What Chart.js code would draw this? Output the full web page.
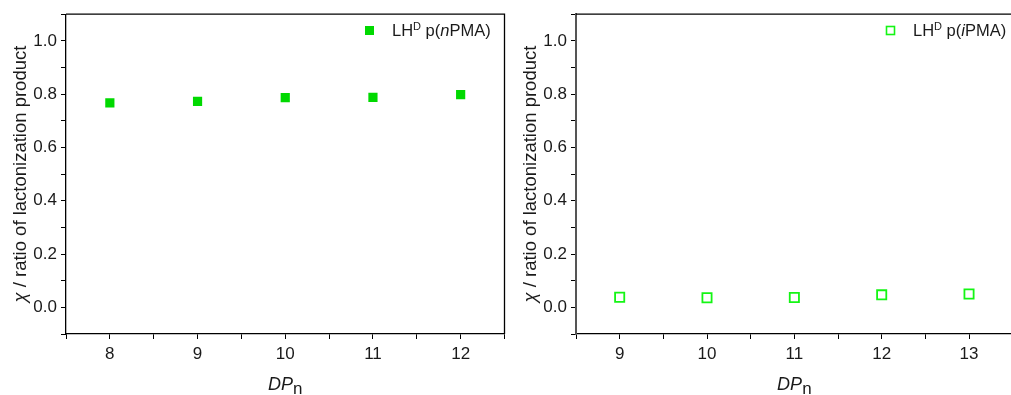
<!DOCTYPE html>
<html>
<head>
<meta charset="utf-8">
<script src="https://cdn.jsdelivr.net/npm/chart.js@4.4.1/dist/chart.umd.min.js"></script>
<style>
  html, body { margin: 0; padding: 0; background: #fff; width: 1011px; height: 395px; overflow: hidden; }
  .panel { position: absolute; top: 0; width: 511px; height: 395px; }
</style>
</head>
<body>
<div class="panel" style="left:0"><canvas id="chartN"></canvas></div>
<div class="panel" style="left:510px"><canvas id="chartI"></canvas></div>
<script>
'use strict';

// Data
const dpN = [8, 9, 10, 11, 12];
const chiN = [0.767, 0.773, 0.787, 0.788, 0.798];
const dpI = [9, 10, 11, 12, 13];
const chiI = [0.038, 0.036, 0.037, 0.047, 0.050];
const yTickLabels = ['0.0', '0.2', '0.4', '0.6', '0.8', '1.0'];

const greenFill = '#00d900',
  greenLine = '#14f514',
  axisColor = '#000',
  textColor = '#1a1a1a',
  fontFamily = '"Liberation Sans", Arial, sans-serif';

// draw a run of text pieces, each with its own style
function drawRich(ctx, parts, x, y, align) {
  let total = 0;
  parts.forEach(function (p) {
    ctx.font = p.font;
    p.w = ctx.measureText(p.text).width;
    total += p.w;
  });
  let cx = align === 'center' ? x - total / 2 : x;
  parts.forEach(function (p) {
    ctx.font = p.font;
    ctx.fillText(p.text, cx, y + (p.dy || 0));
    cx += p.w;
  });
}

const decorPlugin = {
  id: 'decor',
  afterDraw: function (chart) {
    const ctx = chart.ctx,
      area = chart.chartArea,
      opts = chart.options.plugins.decor;
    ctx.save();
    // frame on top and right
    ctx.strokeStyle = axisColor;
    ctx.lineWidth = 1.3;
    ctx.beginPath();
    ctx.moveTo(area.left, area.top);
    ctx.lineTo(area.right, area.top);
    ctx.lineTo(area.right, area.bottom);
    ctx.stroke();

    ctx.fillStyle = textColor;
    ctx.textBaseline = 'alphabetic';
    ctx.textAlign = 'left';

    // x axis title: DP_n
    drawRich(ctx, [
      { text: 'DP', font: 'italic 18px ' + fontFamily },
      { text: 'n', font: '17px ' + fontFamily, dy: 4 }
    ], (area.left + area.right) / 2, 390, 'center');

    // y axis title
    ctx.save();
    ctx.translate(26, (area.top + area.bottom) / 2);
    ctx.rotate(-Math.PI / 2);
    drawRich(ctx, [
      { text: '\u03c7', font: 'italic 18.5px ' + fontFamily },
      { text: ' / ratio of lactonization product', font: '18.5px ' + fontFamily }
    ], 0, 0, 'center');
    ctx.restore();

    // legend
    const lx = opts.legendX, ly = 30;
    if (opts.filled) {
      ctx.fillStyle = greenFill;
      ctx.fillRect(lx - 4, ly - 4, 9, 9);
    } else {
      ctx.strokeStyle = greenLine;
      ctx.lineWidth = 1.6;
      ctx.strokeRect(lx - 3.5, ly - 3.5, 8, 8);
    }
    ctx.fillStyle = textColor;
    drawRich(ctx, [
      { text: 'LH', font: '16.5px ' + fontFamily },
      { text: 'D', font: '11px ' + fontFamily, dy: -6 },
      { text: ' p(', font: '16.5px ' + fontFamily },
      { text: opts.label, font: 'italic 16.5px ' + fontFamily },
      { text: 'PMA)', font: '16.5px ' + fontFamily }
    ], lx + 23, ly + 6, 'left');
    ctx.restore();
  }
};

function makePanel(canvasId, xs, ys, xMin, xMax, filled, label, legendX, yAxisColor, yAxisWidth) {
  const el = document.getElementById(canvasId);
  return new Chart(el, {
    type: 'scatter',
    data: {
      datasets: [
        {
          data: xs.map(function (x, i) { return { x: x, y: ys[i] }; }),
          pointStyle: 'rect',
          pointRadius: 6.5,
          pointHoverRadius: 6.5,
          backgroundColor: filled ? greenFill : 'rgba(0,0,0,0)',
          borderColor: filled ? greenFill : greenLine,
          borderWidth: filled ? 0 : 1.8,
          showLine: false
        }
      ]
    },
    options: {
      responsive: false,
      animation: false,
      layout: { padding: { top: 13, right: 6, left: 0, bottom: 0 } },
      plugins: {
        legend: { display: false },
        tooltip: { enabled: false },
        decor: { filled: filled, label: label, legendX: legendX }
      },
      scales: {
        x: {
          type: 'linear',
          min: xMin,
          max: xMax,
          afterFit: function (scale) { scale.height = 61; },
          border: { color: axisColor, width: 1.3 },
          grid: { drawOnChartArea: false, drawTicks: true, tickLength: 5, tickColor: axisColor },
          ticks: {
            stepSize: 0.5,
            autoSkip: false,
            maxRotation: 0,
            padding: 5,
            color: textColor,
            font: { family: fontFamily, size: 17 },
            callback: function (v) {
              return Number.isInteger(v) ? String(v) : '';
            }
          }
        },
        y: {
          min: -0.1,
          max: 1.1,
          afterFit: function (scale) { scale.width = 66; },
          border: { color: yAxisColor, width: yAxisWidth },
          grid: { drawOnChartArea: false, drawTicks: true, tickLength: 5, tickColor: axisColor },
          ticks: {
            stepSize: 0.1,
            autoSkip: false,
            padding: 4,
            color: textColor,
            font: { family: fontFamily, size: 17 },
            callback: function (v) {
              const k = Math.round(v * 10);
              return k >= 0 && k % 2 === 0 ? yTickLabels[k / 2] : '';
            }
          }
        }
      }
    },
    plugins: [decorPlugin]
  });
}

['chartN', 'chartI'].forEach(function (id) {
  const c = document.getElementById(id);
  c.width = 511;
  c.height = 395;
});

makePanel('chartN', dpN, chiN, 7.5, 12.5, true, 'n', 369, axisColor, 1.3);
makePanel('chartI', dpI, chiI, 8.5, 13.5, false, 'i', 380, '#555', 2);
</script>
</body>
</html>
